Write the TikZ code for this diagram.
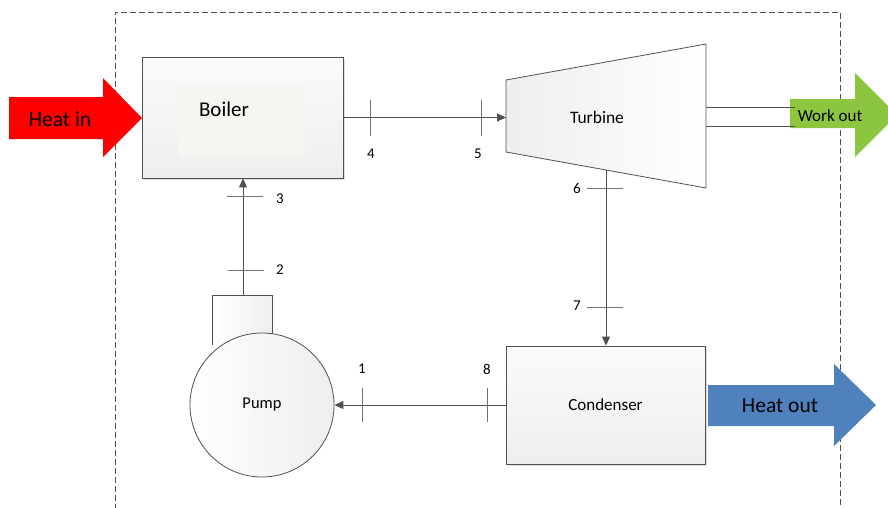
\documentclass[tikz,border=0pt]{standalone}
\usepackage{fontspec}
\setmainfont{Carlito}
\usetikzlibrary{arrows.meta,shadows}
\definecolor{linegray}{HTML}{505050}
\definecolor{tickgray}{HTML}{707070}
\definecolor{heatout}{HTML}{4F81BD}
\definecolor{workgreen}{HTML}{8CC63F}
\definecolor{boxtop}{HTML}{FBFBFB}
\definecolor{boxbot}{HTML}{EEEEEE}
\definecolor{innerfill}{HTML}{F7F5F2}
\tikzset{
  flow/.style={draw=linegray, line width=0.9pt, -{Triangle[length=9pt,width=8pt]}},
  tickmark/.style={draw=tickgray, line width=0.8pt},
  unitbox/.style={draw=linegray, line width=0.8pt, top color=boxtop, bottom color=boxbot, drop shadow={shadow xshift=2pt, shadow yshift=-2pt, opacity=0.25}},
  statelabel/.style={font=\fontsize{15}{17}\selectfont, inner sep=0pt},
}
\begin{document}
\begin{tikzpicture}[x=1pt,y=-1pt]
\useasboundingbox (0,0) rectangle (888,507);
\clip (0,0) rectangle (888,507);
\fill[white] (0,0) rectangle (888,507);
% system boundary
\draw[linegray, line width=0.7pt, dash pattern=on 6pt off 3pt] (115,510) -- (115,12) -- (840,12) -- (840,510);
% Heat in arrow
\fill[red] (9,97) -- (103,97) -- (103,78) -- (142,118) -- (103,157) -- (103,139) -- (9,139) -- cycle;
\node[font=\fontsize{21.5}{24}\selectfont, inner sep=0pt] (heatin) at (60,119) {Heat in};
% Boiler
\node[unitbox, minimum width=201pt, minimum height=121pt, inner sep=0pt] (boiler) at (242.5,117.5) {};
\fill[innerfill] (178,84) rectangle (305,157);
\node[font=\fontsize{21}{24}\selectfont, inner sep=0pt] (boilertext) at (224,109) {Boiler};
% Turbine
\draw[linegray, line width=0.8pt, left color=boxbot, right color=white] (506,80) -- (706,44) -- (706,188) -- (506,152) -- cycle;
\coordinate (turbin) at (506,117.5);
\coordinate (turbout) at (606,170);
\node[font=\fontsize{17.5}{20}\selectfont, inner sep=0pt] (turbine) at (597,117) {Turbine};
% Work out
\fill[workgreen] (790,99) -- (855,99) -- (855,73) -- (897,115) -- (855,157) -- (855,128) -- (790,128) -- cycle;
\coordinate (shaftA) at (706,107);
\coordinate (shaftB) at (706,126);
\draw[linegray, line width=0.8pt] (shaftA) -- ++(89,0);
\draw[linegray, line width=0.8pt] (shaftB) -- ++(89,0);
\node[font=\fontsize{17}{20}\selectfont, inner sep=0pt] (workout) at (830,116) {Work out};
% Condenser
\node[unitbox, minimum width=199pt, minimum height=118pt, inner sep=0pt, font=\fontsize{17}{20}\selectfont] (condenser) at (605.5,405) {Condenser};
% Heat out
\fill[heatout] (708,385) -- (834,385) -- (834,364) -- (876,405) -- (834,446) -- (834,426) -- (708,426) -- cycle;
\node[font=\fontsize{21.5}{24}\selectfont, inner sep=0pt] (heatouttext) at (780,406) {Heat out};
% Pump
\draw[linegray, line width=0.8pt, left color=white, right color=boxbot] (212,345) -- (212,295) -- (272,295) -- (272,345);
\coordinate (pumptop) at (243,295);
\node[circle, draw=linegray, line width=0.8pt, left color=white, right color=boxbot, minimum size=144pt, inner sep=0pt, font=\fontsize{16.5}{19}\selectfont] (pump) at (262,405) {Pump};
% connectors
\draw[flow] (boiler.east) -- (turbin);
\draw[flow] (turbout) -- (turbout |- condenser.north);
\draw[flow] (condenser.west) -- (pump.east);
\draw[flow] (pumptop) -- (pumptop |- boiler.south);
% ticks
\draw[tickmark] (370,100) -- (370,136);
\draw[tickmark] (481,100) -- (481,136);
\draw[tickmark] (587,188) -- (623,188);
\draw[tickmark] (587,307) -- (623,307);
\draw[tickmark] (362,388) -- (362,422);
\draw[tickmark] (487,388) -- (487,422);
\draw[tickmark] (227,196) -- (263,196);
\draw[tickmark] (228,270) -- (264,270);
% state labels
\node[statelabel] (s1) at (362,369) {1};
\node[statelabel] (s2) at (280,270) {2};
\node[statelabel] (s3) at (280,199) {3};
\node[statelabel] (s4) at (371,154) {4};
\node[statelabel] (s5) at (478,154) {5};
\node[statelabel] (s6) at (577,188) {6};
\node[statelabel] (s7) at (577,306) {7};
\node[statelabel] (s8) at (487,369) {8};
\end{tikzpicture}
\end{document}
